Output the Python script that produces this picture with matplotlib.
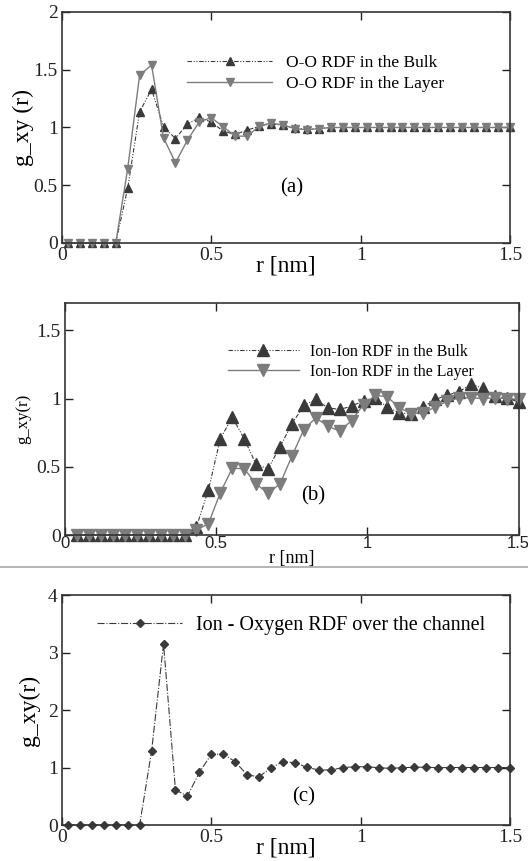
import numpy as np
import matplotlib
matplotlib.use("Agg")
import matplotlib.pyplot as plt
from matplotlib.lines import Line2D

plt.rcParams['font.family'] = ['Liberation Serif', 'DejaVu Serif']

# ---- data ----
# (a) O-O RDF, r = 0.02 ... 1.50 nm
r_a = np.arange(0.02, 1.5001, 0.04)
oo_bulk = [0, 0, 0, 0, 0, 0.475, 1.136, 1.33, 1.006, 0.904, 1.03, 1.087, 1.046,
           0.968, 0.94, 0.977, 1.01, 1.03, 1.02, 0.995, 0.985, 0.99, 1.0, 1.0,
           1.0, 1.0, 1.0, 1.0, 1.0, 1.0, 1.0, 1.0, 1.0, 1.0, 1.0, 1.0, 1.0, 1.0]
oo_layer = [0, 0, 0, 0, 0, 0.643, 1.455, 1.54, 0.91, 0.695, 0.89, 1.05, 1.084,
            1.006, 0.925, 0.925, 1.01, 1.04, 1.02, 0.99, 0.98, 0.99, 1.0, 1.0,
            1.0, 1.0, 1.0, 1.0, 1.0, 1.0, 1.0, 1.0, 1.0, 1.0, 1.0, 1.0, 1.0, 1.0]

# (b) Ion-Ion RDF, 38 bins from 0.04 to 1.50 nm
r_b = np.linspace(0.04, 1.5, 38)
ii_bulk = [0, 0, 0, 0, 0, 0, 0, 0, 0, 0, 0.06, 0.33, 0.705, 0.863, 0.705, 0.517,
           0.485, 0.646, 0.815, 0.949, 0.993, 0.932, 0.92, 0.944, 0.985, 1.005,
           0.937, 0.895, 0.888, 0.937, 0.993, 1.024, 1.05, 1.105, 1.076, 1.017,
           1.005, 0.973]
ii_layer = [0, 0, 0, 0, 0, 0, 0, 0, 0, 0, 0.037, 0.083, 0.31, 0.49, 0.485, 0.375,
            0.305, 0.375, 0.578, 0.773, 0.859, 0.798, 0.761, 0.839, 0.956, 1.024,
            1.012, 0.932, 0.89, 0.895, 0.937, 0.98, 1.005, 1.005, 1.0, 1.005,
            1.0, 0.993]

# (c) Ion-Oxygen RDF, r = 0.02 ... 1.50 nm
r_c = np.arange(0.02, 1.5001, 0.04)
io_chan = [0, 0, 0, 0, 0, 0, 0, 1.287, 3.15, 0.609, 0.504, 0.916, 1.229, 1.235,
           1.10, 0.87, 0.84, 0.997, 1.10, 1.084, 1.003, 0.957, 0.957, 0.997,
           1.014, 1.014, 0.997, 0.985, 0.997, 1.005, 1.005, 0.997, 1.0, 1.0,
           1.0, 1.0, 1.0, 1.0]

dark = '#3a3a3a'
grey = '#7c7c7c'
dashdotdot = (0, (4, 1.5, 1, 1.5, 1, 1.5))

fig = plt.figure(figsize=(5.28, 8.61), dpi=100)


def style_axes(ax, ylim, yticks):
    ax.set_xlim(0, 1.5)
    ax.set_ylim(*ylim)
    ax.set_xticks([0, 0.5, 1, 1.5])
    ax.set_xticklabels(['0', '0.5', '1', '1.5'])
    ax.set_yticks(yticks)
    ax.set_yticklabels(['%g' % t for t in yticks])
    ax.tick_params(direction='in', length=6, width=1, top=True, right=True,
                   labelsize=14, pad=3, colors='#222222')
    for s in ax.spines.values():
        s.set_linewidth(1.2)
        s.set_color('#333333')


# ---- (a) ----
ax1 = fig.add_axes([0.1174, 0.7178, 0.8485, 0.2683])
ax1.plot(r_a, oo_bulk, color=dark, lw=0.8, ls=dashdotdot, marker='^', ms=6,
         mfc=dark, mec=dark, clip_on=False, label='O-O RDF in the Bulk')
ax1.plot(r_a, oo_layer, color=grey, lw=1.0, ls='-', marker='v', ms=6,
         mfc=grey, mec=grey, clip_on=False, label='O-O RDF in the Layer')
style_axes(ax1, (0, 2), [0, 0.5, 1, 1.5, 2])
ax1.set_xlabel('r [nm]', fontsize=17, labelpad=-6)
ax1.set_ylabel('g_xy (r)', fontsize=17, labelpad=0)
ax1.text(0.77, 0.48, '(a)', fontsize=15, ha='center', va='center')
ax1.legend(loc='upper left', bbox_to_anchor=(0.28, 0.814), frameon=False,
           fontsize=12.5, handlelength=4.9, handletextpad=0.8,
           labelspacing=0.3, borderpad=0, borderaxespad=0)

# ---- (b) ----
ax2 = fig.add_axes([0.1231, 0.3786, 0.8593, 0.2695])
ax2.plot(r_b, ii_bulk, color=dark, lw=0.8, ls=dashdotdot, marker='^', ms=9,
         mfc=dark, mec=dark, clip_on=False, label='Ion-Ion RDF in the Bulk')
ax2.plot(r_b, ii_layer, color=grey, lw=1.0, ls='-', marker='v', ms=9,
         mfc=grey, mec=grey, clip_on=False, label='Ion-Ion RDF in the Layer')
style_axes(ax2, (0, 1.7), [0, 0.5, 1, 1.5])
for lab in ax2.get_xticklabels():
    lab.set_family(['Liberation Sans', 'DejaVu Sans'])
    lab.set_fontsize(12)
ax2.tick_params(axis='x', pad=1)
ax2.set_xlabel('r [nm]', fontsize=13, labelpad=-1)
ax2.set_ylabel('g_xy(r)', fontsize=12, labelpad=4)
ax2.text(0.82, 0.285, '(b)', fontsize=15, ha='center', va='center')
ax2.legend(loc='upper left', bbox_to_anchor=(0.36, 0.825), frameon=False,
           fontsize=11.5, handlelength=4.4, handletextpad=0.7,
           labelspacing=0.25, borderpad=0, borderaxespad=0)

# separator line between (b) and (c)
fig.add_artist(Line2D([0.0, 1.0], [1 - 567 / 861, 1 - 567 / 861],
                      color='#a8a8a8', lw=1.2, transform=fig.transFigure))

# ---- (c) ----
ax3 = fig.add_axes([0.1174, 0.0418, 0.8485, 0.2671])
ax3.plot(r_c, io_chan, color=dark, lw=0.8, ls='-.', marker='D', ms=4.5,
         mfc=dark, mec=dark, clip_on=False,
         label='Ion - Oxygen RDF over the channel')
style_axes(ax3, (0, 4), [0, 1, 2, 3, 4])
ax3.set_xlabel('r [nm]', fontsize=17, labelpad=-6)
ax3.set_ylabel('g_xy(r)', fontsize=17, labelpad=6)
ax3.text(0.81, 0.49, '(c)', fontsize=15, ha='center', va='center')
ax3.legend(loc='upper left', bbox_to_anchor=(0.079, 0.908), frameon=False,
           fontsize=14.5, handlelength=4.2, handletextpad=0.7,
           borderpad=0, borderaxespad=0)

fig.savefig('out.png', dpi=100)
